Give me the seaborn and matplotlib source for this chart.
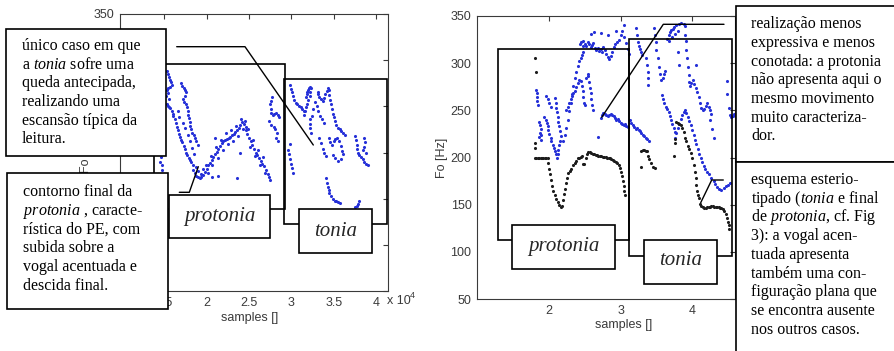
import matplotlib
matplotlib.use("Agg")
import matplotlib.pyplot as plt
from matplotlib.patches import Rectangle
from matplotlib.lines import Line2D
import pandas as pd
import seaborn as sns

W, H = 895, 351

# x values in units of 1e4 samples, y in Hz
left_blue = [
    (1.45, 190), (1.47, 186), (1.48, 181), (1.46, 195),
    (1.54, 288), (1.55, 285), (1.56, 282), (1.57, 279), (1.58, 276), (1.59, 273), (1.57, 271), (1.55, 270),
    (1.53, 268), (1.545, 264), (1.52, 261), (1.56, 258),
    (1.53, 252), (1.545, 250), (1.56, 249), (1.575, 248), (1.59, 245), (1.60, 242), (1.61, 239), (1.625, 236),
    (1.64, 232), (1.655, 228), (1.665, 224), (1.68, 220), (1.69, 217), (1.70, 214), (1.715, 211), (1.73, 207),
    (1.745, 204), (1.76, 200), (1.775, 197), (1.79, 194), (1.805, 192), (1.82, 190), (1.84, 187),
    (1.70, 275), (1.715, 272), (1.73, 270), (1.745, 268), (1.755, 265), (1.745, 261), (1.725, 258), (1.74, 255),
    (1.76, 253), (1.77, 249), (1.78, 245), (1.785, 241), (1.79, 237), (1.80, 233), (1.805, 229), (1.815, 225),
    (1.83, 221), (1.85, 219), (1.87, 216), (1.88, 212), (1.895, 208),
    (1.66, 245), (1.68, 238), (1.72, 232), (1.75, 226), (1.78, 219), (1.80, 212), (1.83, 205), (1.85, 198),
    (1.84, 181), (1.86, 178), (1.88, 175), (1.90, 173), (1.92, 172), (1.94, 174), (1.96, 176), (1.98, 179),
    (2.00, 182), (2.02, 186), (2.04, 189), (2.06, 192), (2.08, 195), (2.10, 198), (2.12, 201), (2.14, 204),
    (2.16, 207), (2.18, 210), (2.20, 212), (2.22, 214), (2.24, 215), (2.26, 216), (2.28, 217), (2.30, 219),
    (2.32, 220), (2.34, 222), (2.36, 224), (2.38, 227), (2.40, 230), (2.42, 233), (2.44, 231), (2.46, 228),
    (2.47, 224), (2.48, 220), (2.50, 216), (2.52, 212), (2.54, 208), (2.56, 204), (2.58, 200), (2.60, 197),
    (2.62, 194), (2.64, 191), (2.66, 188), (2.68, 185), (2.70, 181), (2.72, 177), (2.74, 173), (2.75, 170),
    (1.88, 184), (1.90, 180), (1.93, 177), (1.96, 182), (1.99, 186), (2.02, 178), (2.05, 196), (2.07, 187),
    (2.11, 206), (2.13, 194), (2.17, 213), (2.19, 203), (2.23, 221), (2.25, 209), (2.29, 224), (2.31, 212),
    (2.35, 229), (2.37, 218), (2.41, 236), (2.43, 225), (2.45, 234), (2.49, 225), (2.51, 206), (2.55, 213),
    (2.57, 196), (2.61, 203), (2.63, 186), (2.67, 195), (2.69, 178),
    (2.10, 216), (2.14, 175), (2.36, 172), (2.40, 199), (2.06, 174),
    (2.77, 260), (2.76, 256), (2.75, 252), (2.755, 247), (2.76, 243), (2.78, 241), (2.80, 242), (2.82, 243),
    (2.84, 241), (2.85, 238), (2.74, 234), (2.76, 230), (2.79, 228), (2.81, 225), (2.83, 221), (2.82, 216),
    (2.84, 212),
    (2.99, 273), (3.00, 269), (3.01, 265), (3.02, 261), (3.03, 257), (3.05, 254), (3.07, 252), (3.09, 250),
    (3.11, 249), (3.13, 247), (3.15, 245),
    (3.17, 260), (3.18, 263), (3.19, 266), (3.20, 268), (3.21, 270), (3.22, 271), (3.23, 270), (3.225, 265),
    (3.215, 261), (3.20, 257), (3.19, 253), (3.17, 249), (3.16, 245), (3.15, 241),
    (3.31, 266), (3.32, 263), (3.33, 260), (3.35, 258), (3.37, 256), (3.38, 259), (3.40, 263), (3.42, 267),
    (3.43, 270), (3.44, 268),
    (3.45, 262), (3.46, 257), (3.47, 252), (3.48, 247), (3.49, 242), (3.50, 238), (3.51, 234), (3.53, 230),
    (3.55, 227), (3.57, 225), (3.59, 223), (3.61, 221), (3.63, 219),
    (3.28, 255), (3.30, 250), (3.32, 245), (3.34, 240), (3.36, 236), (3.38, 232), (3.26, 247), (3.24, 240),
    (3.22, 236), (3.225, 231), (3.22, 226), (3.23, 221),
    (3.33, 216), (3.35, 210), (3.37, 204), (3.39, 199), (3.41, 196),
    (3.44, 216), (3.46, 211), (3.48, 208), (3.50, 212), (3.52, 215), (3.54, 216), (3.56, 212), (3.58, 207),
    (3.60, 202), (3.61, 198), (3.58, 193), (3.55, 191), (3.52, 194), (3.49, 197),
    (3.75, 218), (3.76, 213), (3.77, 208), (3.78, 204), (3.79, 200), (3.80, 197), (3.82, 195), (3.84, 193),
    (3.86, 190), (3.88, 188), (3.90, 187),
    (3.86, 216), (3.87, 211), (3.86, 206), (3.84, 203), (3.88, 199),
    (2.98, 209), (2.965, 203), (2.97, 198), (2.985, 193), (3.00, 188), (3.01, 183), (3.02, 178),
    (3.41, 172), (3.42, 167), (3.43, 163), (3.44, 159), (3.45, 156), (3.47, 153), (3.49, 150), (3.51, 148),
    (3.53, 147), (3.55, 146), (3.57, 145),
    (3.80, 148), (3.79, 144), (3.77, 142), (3.75, 141),
]

right_blue = [
    (1.82, 272), (1.825, 268), (1.83, 264), (1.835, 260), (1.84, 256),
    (1.86, 238), (1.87, 234), (1.88, 230), (1.87, 226), (1.86, 222), (1.88, 219), (1.89, 224),
    (1.93, 243), (1.95, 240), (1.97, 237), (1.98, 233), (1.99, 229), (2.00, 225), (2.02, 221), (2.03, 217),
    (2.05, 213), (2.07, 210), (2.08, 207), (2.10, 204),
    (1.96, 265), (1.98, 262), (2.00, 258), (2.02, 254),
    (2.08, 263), (2.09, 258), (2.10, 253), (2.11, 248), (2.12, 243), (2.13, 238), (2.14, 233), (2.15, 228),
    (2.16, 223), (2.15, 218), (2.14, 213), (2.13, 208), (2.12, 204), (2.11, 200),
    (2.20, 218), (2.22, 224), (2.24, 231), (2.26, 240), (2.28, 249), (2.30, 258), (2.32, 267), (2.34, 276),
    (2.36, 284), (2.38, 291), (2.40, 297), (2.42, 302), (2.44, 306), (2.46, 309), (2.48, 312),
    (2.24, 250), (2.26, 254), (2.28, 258), (2.30, 262), (2.32, 265), (2.34, 268), (2.36, 271), (2.38, 275),
    (2.40, 279), (2.42, 282), (2.44, 281), (2.46, 276), (2.47, 270), (2.48, 264), (2.49, 258), (2.50, 256),
    (2.52, 284), (2.54, 289), (2.55, 286), (2.56, 280), (2.57, 274), (2.58, 268), (2.59, 262), (2.60, 256),
    (2.61, 250),
    (2.43, 320), (2.45, 322), (2.47, 318), (2.48, 323), (2.50, 320), (2.52, 318), (2.54, 322), (2.56, 320),
    (2.58, 317), (2.60, 319), (2.62, 321), (2.64, 316), (2.66, 314), (2.68, 316), (2.70, 313), (2.72, 315),
    (2.74, 312), (2.76, 317), (2.78, 314), (2.80, 310), (2.82, 307), (2.84, 304), (2.86, 308), (2.88, 312),
    (2.90, 317), (2.92, 320), (2.95, 322), (2.98, 325), (3.00, 330), (3.02, 334), (3.05, 328), (3.08, 321),
    (3.10, 315), (3.12, 310),
    (2.58, 331), (2.63, 333), (2.73, 332), (2.82, 330), (2.94, 334), (3.05, 340),
    (2.72, 242), (2.74, 245), (2.76, 247), (2.78, 246), (2.80, 245), (2.82, 244), (2.84, 245), (2.86, 246),
    (2.88, 245), (2.90, 244), (2.92, 242), (2.94, 240), (2.96, 241), (2.98, 239), (3.00, 237), (3.02, 236),
    (3.04, 234), (3.06, 236), (3.08, 233), (3.10, 232), (3.13, 240), (3.15, 237), (3.17, 234), (3.19, 232),
    (3.21, 230), (3.23, 231), (3.25, 229), (3.27, 228), (3.29, 226), (3.31, 224), (3.33, 223), (3.35, 221),
    (3.37, 220), (3.39, 218), (2.69, 222),
    (3.22, 337), (3.23, 330), (3.24, 322), (3.25, 318), (3.27, 315), (3.28, 312), (3.30, 309),
    (3.36, 305), (3.37, 298), (3.38, 291), (3.38, 284), (3.38, 277),
    (3.47, 337), (3.48, 330), (3.49, 322), (3.50, 314), (3.52, 305), (3.53, 296), (3.55, 289), (3.57, 282),
    (3.59, 284), (3.60, 288), (3.62, 292),
    (3.58, 266), (3.59, 262), (3.61, 258), (3.63, 254), (3.65, 251), (3.67, 248), (3.69, 244), (3.71, 240),
    (3.72, 236), (3.74, 231), (3.76, 227),
    (3.65, 326), (3.67, 330), (3.69, 333), (3.71, 335), (3.73, 336), (3.75, 338), (3.78, 340), (3.81, 341),
    (3.85, 343), (3.88, 342), (3.90, 339), (3.68, 324), (3.72, 328), (3.76, 331), (3.80, 334),
    (3.90, 330), (3.91, 323), (3.92, 314), (3.93, 305), (3.94, 296), (3.95, 287), (3.96, 280), (3.97, 276),
    (3.99, 279), (4.01, 282), (4.03, 278), (4.05, 274), (4.07, 269), (4.09, 264), (4.11, 258), (4.13, 253),
    (4.15, 250), (4.17, 251), (4.19, 255), (4.21, 258), (4.23, 254), (4.25, 250), (4.27, 246),
    (3.80, 231), (3.82, 236), (3.84, 241), (3.86, 245), (3.88, 248), (3.90, 250), (3.92, 247), (3.94, 243),
    (3.96, 239), (3.98, 234), (4.00, 229), (4.02, 224), (4.04, 219), (4.06, 214), (4.08, 209), (4.10, 204),
    (4.12, 199), (4.14, 195), (4.16, 191), (4.18, 188), (4.21, 185), (4.24, 182), (4.27, 178), (4.30, 175),
    (4.32, 172), (4.35, 169), (4.38, 167), (4.41, 166), (4.44, 168), (4.47, 170), (4.50, 171), (4.53, 173),
    (3.76, 221), (3.78, 226),
    (4.49, 281), (4.49, 267), (4.51, 253), (4.53, 245), (4.55, 243), (4.57, 244), (4.59, 246),
    (3.82, 298), (3.80, 312), (4.05, 298), (4.28, 230), (4.30, 221), (4.25, 240),
]

right_black = [
    (1.80, 305), (1.81, 291), (1.80, 215), (1.80, 210),
    (1.80, 199), (1.82, 200), (1.84, 199), (1.86, 200), (1.88, 199), (1.90, 200), (1.92, 199), (1.94, 200),
    (1.96, 199), (1.98, 199),
    (1.99, 194), (2.00, 188), (2.01, 182), (2.02, 176), (2.04, 170), (2.06, 165), (2.08, 160), (2.10, 156),
    (2.12, 153), (2.14, 150), (2.16, 148), (2.18, 149), (2.20, 155), (2.21, 161), (2.22, 167), (2.23, 173),
    (2.25, 178), (2.27, 184), (2.29, 186), (2.31, 188), (2.33, 192), (2.36, 194), (2.38, 196), (2.40, 199),
    (2.42, 200), (2.44, 201), (2.46, 202), (2.47, 193), (2.49, 193), (2.51, 199), (2.53, 204), (2.55, 206),
    (2.57, 206), (2.59, 205), (2.61, 204), (2.63, 204), (2.65, 203), (2.67, 203), (2.69, 202), (2.71, 202),
    (2.73, 202), (2.75, 201), (2.77, 201), (2.79, 201), (2.81, 200), (2.83, 200), (2.85, 199), (2.87, 198),
    (2.89, 197), (2.91, 196), (2.93, 195), (2.95, 194), (2.97, 192), (2.99, 189), (3.01, 185), (3.02, 180),
    (3.03, 175), (3.04, 170), (3.05, 165), (3.06, 160),
    (3.29, 207), (3.31, 208), (3.33, 208), (3.35, 207), (3.37, 207), (3.38, 202), (3.40, 198), (3.42, 194),
    (3.45, 190), (3.48, 189), (3.29, 190),
    (3.76, 220), (3.76, 215), (3.75, 202),
    (3.78, 238), (3.80, 237), (3.82, 235), (3.84, 234), (3.86, 231), (3.88, 227), (3.90, 221), (3.92, 217),
    (3.94, 212), (3.96, 209), (3.98, 205), (4.00, 199), (4.02, 192), (4.04, 185), (4.05, 178), (4.06, 171),
    (4.07, 164), (4.08, 160), (4.09, 157), (4.11, 151), (4.13, 149), (4.15, 147), (4.17, 146), (4.19, 146),
    (4.21, 147), (4.23, 148), (4.25, 148), (4.27, 149), (4.29, 149), (4.31, 148), (4.33, 148), (4.35, 147),
    (4.37, 147), (4.39, 146), (4.41, 146), (4.43, 145), (4.45, 143), (4.47, 140), (4.49, 136), (4.50, 132),
    (4.51, 128), (4.52, 124),
]

left_xticks = [1.5, 2, 2.5, 3, 3.5, 4]
left_xticklabels = ["1.5", "2", "2.5", "3", "3.5", "4"]
right_xticks = [2, 3, 4]
right_xticklabels = ["2", "3", "4"]
yticks = [50, 100, 150, 200, 250, 300, 350]
# in the left panel only the top label is left uncovered by the note boxes
left_yticklabels = ["", "", "", "", "", "", "350"]
right_yticklabels = ["50", "100", "150", "200", "250", "300", "350"]

note_tonia = ["único caso em que", "a $\\mathit{tonia}$ sofre uma", "queda antecipada,",
              "realizando uma", "escansão típica da", "leitura."]
note_final = ["contorno final da", "$\\mathit{protonia}$ , caracte-", "rística do PE, com",
              "subida sobre a", "vogal acentuada e", "descida final."]
note_less = ["realização menos", "expressiva e menos", "conotada: a protonia",
             "não apresenta aqui o", "mesmo movimento", "muito caracteriza-", "dor."]
note_flat = ["esquema esterio-", "tipado ($\\mathit{tonia}$ e final", "de $\\mathit{protonia}$, cf. Fig",
             "3): a vogal acen-", "tuada apresenta", "também uma con-", "figuração plana que",
             "se encontra ausente", "nos outros casos."]

sns.set_style("white")
plt.rcParams["font.family"] = ["Liberation Sans", "DejaVu Sans"]
plt.rcParams["mathtext.fontset"] = "custom"
plt.rcParams["mathtext.rm"] = "Liberation Serif"
plt.rcParams["mathtext.it"] = "Liberation Serif:italic"

fig = plt.figure(figsize=(W / 100, H / 100), dpi=100)
fig.patch.set_facecolor("white")


def fx(px):
    return px / W


def fy(py):
    return 1 - py / H


ax1 = fig.add_axes([fx(120), fy(291), 268 / W, 277 / H])
ax2 = fig.add_axes([fx(477), fy(299), 258 / W, 283 / H])

lb = pd.DataFrame(left_blue, columns=["x", "y"])
rb = pd.DataFrame(right_blue, columns=["x", "y"])
rk = pd.DataFrame(right_black, columns=["x", "y"])

blue = "#2530d8"
dots = dict(marker="o", s=5, linewidth=0, legend=False)
sns.scatterplot(data=lb, x="x", y="y", ax=ax1, color=blue, **dots)
sns.scatterplot(data=rb, x="x", y="y", ax=ax2, color=blue, **dots)
sns.scatterplot(data=rk, x="x", y="y", ax=ax2, color="#1c1c1c", **dots)

for ax, xl, xt, xtl, ytl in [(ax1, (0.98, 4.14), left_xticks, left_xticklabels, left_yticklabels),
                             (ax2, (0.99, 4.6), right_xticks, right_xticklabels, right_yticklabels)]:
    ax.set_xlim(*xl)
    ax.set_ylim(50, 350)
    ax.set_xticks(xt)
    ax.set_xticklabels(xtl)
    ax.set_yticks(yticks)
    ax.set_yticklabels(ytl)
    ax.set_xlabel("")
    ax.set_ylabel("")
    ax.tick_params(direction="in", length=3.5, width=0.8, top=True, right=True,
                   labelsize=9, colors="#3a3a3a", pad=4)
    for sp in ax.spines.values():
        sp.set_color("#3a3a3a")
        sp.set_linewidth(0.8)

lab = dict(fontsize=9, color="#3a3a3a", zorder=0.5)
fig.text(fx(86), fy(152.5), "Fo [Hz]", rotation=90, ha="center", va="center", **lab)
fig.text(fx(442), fy(157.5), "Fo [Hz]", rotation=90, ha="center", va="center", **lab)
fig.text(fx(250), fy(318), "samples []", ha="center", va="center", **lab)
fig.text(fx(624), fy(325), "samples []", ha="center", va="center", **lab)
fig.text(fx(387), fy(301), "x 10", ha="left", va="center", **lab)
fig.text(fx(410), fy(295), "4", ha="left", va="center", fontsize=6.5, color="#3a3a3a")


def rect(x0, y0, x1, y1, fill, z):
    fig.add_artist(Rectangle((fx(x0), fy(y1)), (x1 - x0) / W, (y1 - y0) / H,
                             transform=fig.transFigure, facecolor="white" if fill else "none",
                             edgecolor="black", lw=1.2, zorder=z))


def leader(pts):
    fig.add_artist(Line2D([fx(p[0]) for p in pts], [fy(p[1]) for p in pts],
                          transform=fig.transFigure, color="black", lw=1.0, zorder=1.5))


def note(x, y0, lines):
    for i, s in enumerate(lines):
        fig.text(fx(x), fy(y0 + i * 18.7), s, ha="left", va="center", fontsize=11.5,
                 family="Liberation Serif", color="black", zorder=4)


# left panel brackets and labels
rect(154.3, 64, 285, 209.3, False, 1)
rect(284.3, 78.7, 386.7, 224, False, 1)
rect(169, 195, 270.3, 238.3, True, 2)
rect(299.3, 209.3, 371.7, 253.3, True, 2)
fig.text(fx(219.5), fy(216.5), "protonia", ha="center", va="center", fontsize=15,
         family="Liberation Serif", style="italic", zorder=4)
fig.text(fx(335.5), fy(231), "tonia", ha="center", va="center", fontsize=15,
         family="Liberation Serif", style="italic", zorder=4)
leader([(176.7, 46.7), (245, 46.7), (313.3, 145)])
leader([(179.3, 192.3), (189.3, 192.3), (198.3, 166.7)])
rect(5.7, 28.7, 165.7, 155.7, True, 3)
rect(7.3, 173.3, 167.7, 309.3, True, 3)
note(21.7, 46, note_tonia)
note(22.7, 192.3, note_final)

# right panel brackets and labels
rect(497.7, 49.3, 629.3, 240, False, 1)
rect(629.3, 39, 732.3, 256, False, 1)
rect(512.3, 225.3, 615, 269, True, 2)
rect(644.3, 240, 717.3, 284, True, 2)
fig.text(fx(563.5), fy(246.5), "protonia", ha="center", va="center", fontsize=15,
         family="Liberation Serif", style="italic", zorder=4)
fig.text(fx(681), fy(260.5), "tonia", ha="center", va="center", fontsize=15,
         family="Liberation Serif", style="italic", zorder=4)
leader([(724, 24.3), (663.3, 24.3), (601.7, 117.3)])
leader([(723.3, 180), (711.7, 180), (700.7, 202.7)])
rect(735.7, 6, 905, 161.7, True, 3)
rect(735.7, 161.7, 905, 360, True, 3)
note(751, 24.3, note_less)
note(751, 180, note_flat)

fig.savefig("out.png", dpi=100, facecolor="white")
